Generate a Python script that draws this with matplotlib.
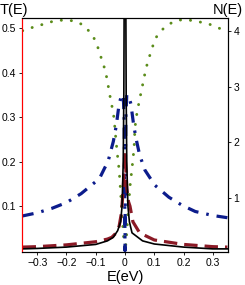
import matplotlib
matplotlib.use("Agg")
import matplotlib.pyplot as plt

plt.rcParams["font.family"] = ["Liberation Sans", "DejaVu Sans"]

# values (all in T(E) units of the left axis)
green_e = [-0.35, -0.341, -0.31, -0.276, -0.242, -0.208, -0.174, -0.143, -0.12, -0.1,
           -0.089, -0.078, -0.068, -0.061, -0.055, -0.049, -0.042, -0.037, -0.034,
           -0.027, -0.02, -0.015, -0.011, -0.007, -0.003, 0.0,
           0.003, 0.007, 0.012, 0.018, 0.024, 0.031, 0.034, 0.038, 0.044, 0.051,
           0.058, 0.065, 0.072, 0.082, 0.092, 0.102, 0.123, 0.15, 0.184, 0.218,
           0.253, 0.287, 0.32, 0.35]
green_t = [0.494, 0.495, 0.503, 0.509, 0.516, 0.518, 0.516, 0.507, 0.491, 0.471,
           0.449, 0.426, 0.406, 0.384, 0.361, 0.339, 0.316, 0.296, 0.27,
           0.222, 0.181, 0.132, 0.087, 0.05, 0.015, 0.0,
           0.015, 0.05, 0.1, 0.15, 0.185, 0.23, 0.275, 0.298, 0.32, 0.343,
           0.365, 0.388, 0.41, 0.433, 0.453, 0.475, 0.494, 0.509, 0.518, 0.518,
           0.514, 0.509, 0.5, 0.493]

blue_e = [-0.35, -0.3, -0.25, -0.2, -0.15, -0.1, -0.085, -0.07, -0.058, -0.05, -0.04,
          -0.03, -0.02, -0.012, -0.006, -0.003, -0.0015, 0.0, 0.0015, 0.003, 0.006,
          0.012, 0.02, 0.03, 0.04, 0.05, 0.068, 0.102, 0.15, 0.195, 0.24, 0.3, 0.35]
blue_t = [0.078, 0.085, 0.095, 0.108, 0.128, 0.155, 0.165, 0.185, 0.2, 0.22, 0.245,
          0.28, 0.33, 0.348, 0.35, 0.3, 0.2, 0.0, 0.2, 0.3, 0.35,
          0.348, 0.33, 0.28, 0.245, 0.215, 0.181, 0.147, 0.12, 0.102, 0.088, 0.079, 0.074]

red_e = [-0.35, -0.3, -0.2, -0.1, -0.06, -0.045, -0.03, -0.02, -0.012, -0.006, 0.0,
         0.006, 0.012, 0.017, 0.027, 0.05, 0.1, 0.2, 0.3, 0.35]
red_t = [0.008, 0.009, 0.013, 0.02, 0.026, 0.03, 0.04, 0.055, 0.085, 0.14, 0.22,
         0.14, 0.11, 0.1, 0.065, 0.04, 0.024, 0.014, 0.009, 0.008]

black_e = [-0.35, -0.3, -0.2, -0.1, -0.06, -0.04, -0.025, -0.015, -0.01, -0.006, -0.004,
           -0.002, 0.0, 0.002, 0.004, 0.006, 0.01, 0.015, 0.024, 0.044, 0.06, 0.1,
           0.2, 0.3, 0.35]
black_t = [0.004, 0.005, 0.008, 0.014, 0.022, 0.03, 0.045, 0.065, 0.1, 0.2, 0.35,
           0.7, 1.0, 0.7, 0.35, 0.2, 0.1, 0.065, 0.04, 0.03, 0.022, 0.015,
           0.008, 0.004, 0.004]

x_ticks = [-0.3, -0.2, -0.1, 0, 0.1, 0.2, 0.3]
x_labels = ["\u22120.3", "\u22120.2", "\u22120.1", "0", "0.1", "0.2", "0.3"]
t_ticks = [0.1, 0.2, 0.3, 0.4, 0.5]
n_ticks = [1, 2, 3, 4]

fig = plt.figure(figsize=(2.45, 2.85), dpi=100)
ax = fig.add_axes([0.0898, 0.1158, 0.8408, 0.821])

# green dotted: round dots about 3 px wide, ~10 px apart
ax.plot(green_e, green_t, color="#5b8c1a", lw=2.1, linestyle=(0, (0.05, 3.4)),
        dash_capstyle="round")
ax.plot(blue_e, blue_t, color="#0c1c8c", lw=2.3, linestyle=(0, (3.5, 2.5, 0.8, 2.5)))
ax.plot(red_e, red_t, color="#8b1a26", lw=2.3, linestyle=(0, (4.2, 2.2)))
ax.plot(black_e, black_t, color="black", lw=1.2)

ax.set_xlim(-0.352, 0.352)
ax.set_ylim(-0.003, 0.5225)
ax.set_xticks(x_ticks)
ax.set_xticklabels(x_labels)
ax.set_yticks(t_ticks)
ax.tick_params(labelsize=7.5, length=2, width=0.6, pad=2)
ax.spines["left"].set_color("red")
for s in ["top", "right", "bottom"]:
    ax.spines[s].set_linewidth(0.8)

ax2 = ax.twinx()
ax2.set_ylim(0.03, 4.236)
ax2.set_yticks(n_ticks)
ax2.tick_params(labelsize=7.5, length=2, width=0.6, pad=2)
ax2.spines["left"].set_color("red")

fig.text(0.0, 0.965, "T(E)", fontsize=10.5, ha="left", va="center")
fig.text(0.99, 0.965, "N(E)", fontsize=10.5, ha="right", va="center")
fig.text(0.51, 0.027, "E(eV)", fontsize=10.5, ha="center", va="center")

fig.savefig("out.png", dpi=100)
